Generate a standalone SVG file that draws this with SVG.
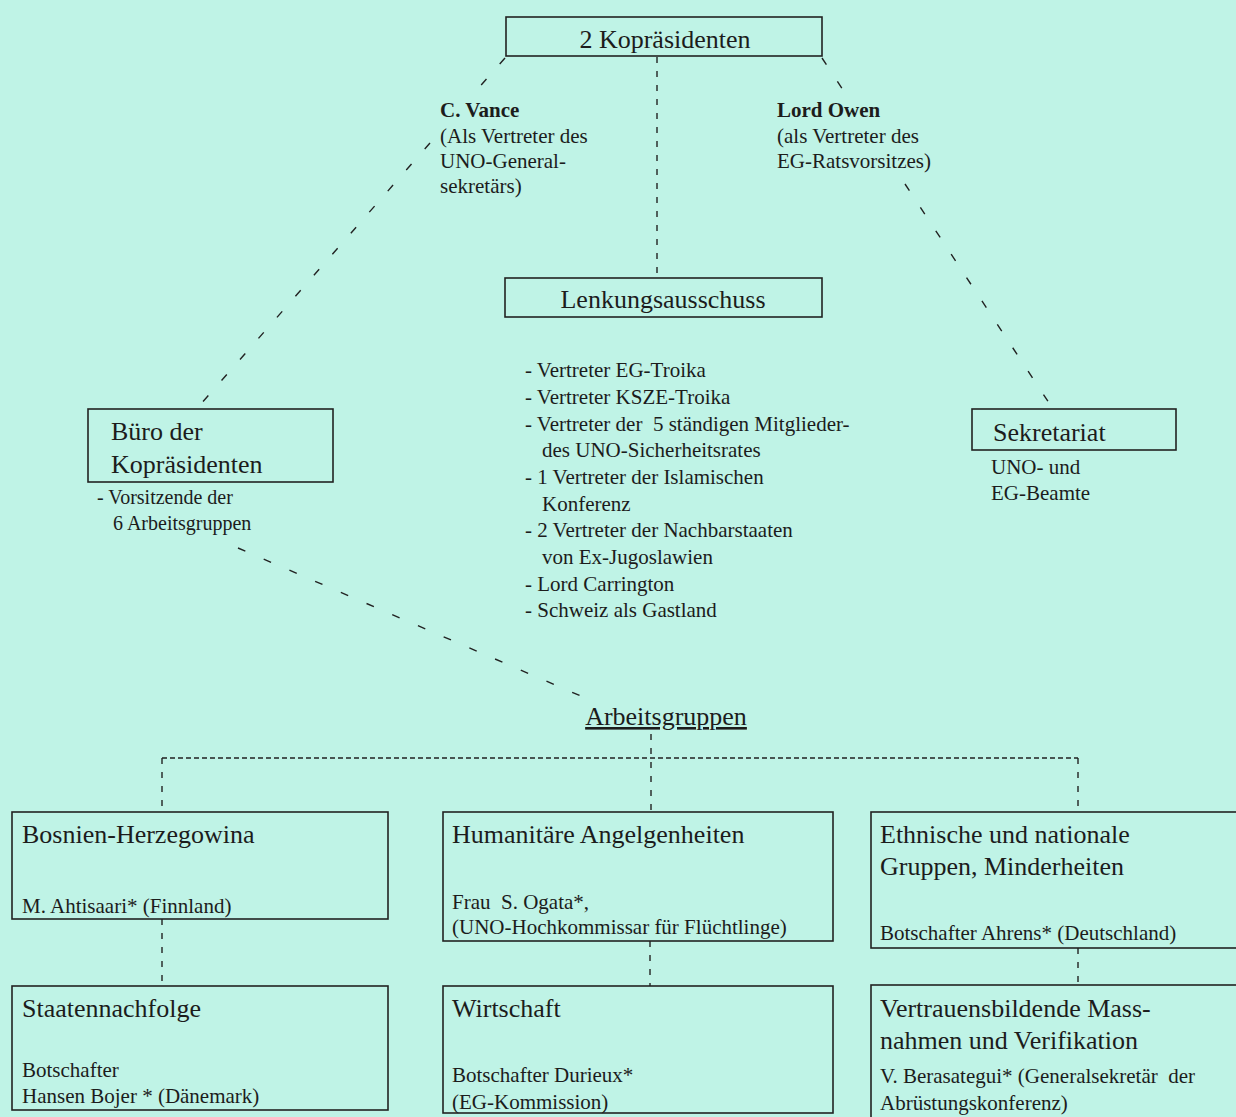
<svg xmlns="http://www.w3.org/2000/svg" width="1236" height="1117" viewBox="0 0 1236 1117">
<style>
  .bg { fill: #bff3e6; }
  .box { fill: none; stroke: #222; stroke-width: 1.6; }
  .t { font-family: "Liberation Serif", "Times New Roman", serif; fill: #1c1c1c; }
  .title { font-size: 26px; }
  .sm { font-size: 21px; }
  .b { font-weight: bold; }
  .diag { stroke: #222; stroke-width: 1.4; fill: none; stroke-dasharray: 8 20; }
  .vd { stroke: #222; stroke-width: 1.4; fill: none; stroke-dasharray: 6 8; }
  .hd { stroke: #222; stroke-width: 1.4; fill: none; stroke-dasharray: 5 3; }
</style>
<rect class="bg" x="0" y="0" width="1236" height="1117"/>

<g id="connectors">
  <line class="vd" x1="657" y1="57" x2="657" y2="278"/>
  <line class="diag" x1="505" y1="58" x2="475" y2="92"/>
  <line class="diag" x1="430" y1="143" x2="200" y2="405"/>
  <line class="diag" x1="822" y1="58" x2="847" y2="96"/>
  <line class="diag" x1="905" y1="184" x2="1053" y2="409"/>
  <line class="diag" x1="238" y1="548" x2="590" y2="700"/>
  <line class="vd" x1="651" y1="734" x2="651" y2="812"/>
  <line class="hd" x1="162" y1="758" x2="1078" y2="758"/>
  <line class="vd" x1="162" y1="758" x2="162" y2="812"/>
  <line class="vd" x1="1078" y1="758" x2="1078" y2="812"/>
  <line class="vd" x1="162" y1="919" x2="162" y2="986"/>
  <line class="vd" x1="650" y1="941" x2="650" y2="986"/>
  <line class="vd" x1="1078" y1="948" x2="1078" y2="985"/>
</g>

<g id="kopraesidenten">
  <rect class="box" x="506" y="17" width="316" height="39"/>
  <text class="t title" x="665" y="48" text-anchor="middle">2 Kopräsidenten</text>
</g>

<g id="vance">
  <text class="t sm b" x="440" y="117">C. Vance</text>
  <text class="t sm" x="440" y="143">(Als Vertreter des</text>
  <text class="t sm" x="440" y="168">UNO-General-</text>
  <text class="t sm" x="440" y="193">sekretärs)</text>
</g>

<g id="owen">
  <text class="t sm b" x="777" y="117">Lord Owen</text>
  <text class="t sm" x="777" y="143">(als Vertreter des</text>
  <text class="t sm" x="777" y="168">EG-Ratsvorsitzes)</text>
</g>

<g id="lenkungsausschuss">
  <rect class="box" x="505" y="278" width="317" height="39"/>
  <text class="t title" x="663" y="308" text-anchor="middle">Lenkungsausschuss</text>
  <text class="t sm" x="525" y="377">- Vertreter EG-Troika</text>
  <text class="t sm" x="525" y="404">- Vertreter KSZE-Troika</text>
  <text class="t sm" x="525" y="431" xml:space="preserve">- Vertreter der  5 ständigen Mitglieder-</text>
  <text class="t sm" x="542" y="457">des UNO-Sicherheitsrates</text>
  <text class="t sm" x="525" y="484">- 1 Vertreter der Islamischen</text>
  <text class="t sm" x="542" y="511">Konferenz</text>
  <text class="t sm" x="525" y="537">- 2 Vertreter der Nachbarstaaten</text>
  <text class="t sm" x="542" y="564">von Ex-Jugoslawien</text>
  <text class="t sm" x="525" y="591">- Lord Carrington</text>
  <text class="t sm" x="525" y="617">- Schweiz als Gastland</text>
</g>

<g id="buero">
  <rect class="box" x="88" y="409" width="245" height="73"/>
  <text class="t title" x="111" y="440">Büro der</text>
  <text class="t title" x="111" y="473">Kopräsidenten</text>
  <text class="t" font-size="20" x="97" y="504">- Vorsitzende der</text>
  <text class="t" font-size="20" x="113" y="530">6 Arbeitsgruppen</text>
</g>

<g id="sekretariat">
  <rect class="box" x="972" y="409" width="204" height="41"/>
  <text class="t title" x="993" y="441">Sekretariat</text>
  <text class="t sm" x="991" y="474">UNO- und</text>
  <text class="t sm" x="991" y="500">EG-Beamte</text>
</g>

<g id="arbeitsgruppen">
  <text class="t title" x="666" y="725" text-anchor="middle" text-decoration="underline">Arbeitsgruppen</text>
</g>

<g id="bosnien">
  <rect class="box" x="12" y="812" width="376" height="107"/>
  <text class="t title" x="22" y="843">Bosnien-Herzegowina</text>
  <text class="t sm" x="22" y="913">M. Ahtisaari* (Finnland)</text>
</g>

<g id="staatennachfolge">
  <rect class="box" x="12" y="986" width="376" height="124"/>
  <text class="t title" x="22" y="1017">Staatennachfolge</text>
  <text class="t sm" x="22" y="1077">Botschafter</text>
  <text class="t sm" x="22" y="1103">Hansen Bojer * (Dänemark)</text>
</g>

<g id="humanitaer">
  <rect class="box" x="443" y="812" width="390" height="129"/>
  <text class="t title" x="452" y="843">Humanitäre Angelgenheiten</text>
  <text class="t sm" x="452" y="909" xml:space="preserve">Frau  S. Ogata*,</text>
  <text class="t sm" x="452" y="934">(UNO-Hochkommissar für Flüchtlinge)</text>
</g>

<g id="wirtschaft">
  <rect class="box" x="443" y="986" width="390" height="127"/>
  <text class="t title" x="452" y="1017">Wirtschaft</text>
  <text class="t sm" x="452" y="1082">Botschafter Durieux*</text>
  <text class="t sm" x="452" y="1109">(EG-Kommission)</text>
</g>

<g id="ethnische">
  <rect class="box" x="871" y="812" width="380" height="136"/>
  <text class="t title" x="880" y="843">Ethnische und nationale</text>
  <text class="t title" x="880" y="875">Gruppen, Minderheiten</text>
  <text class="t sm" x="880" y="940">Botschafter Ahrens* (Deutschland)</text>
</g>

<g id="vertrauen">
  <rect class="box" x="871" y="985" width="380" height="150"/>
  <text class="t title" x="880" y="1017">Vertrauensbildende Mass-</text>
  <text class="t title" x="880" y="1049">nahmen und Verifikation</text>
  <text class="t sm" x="880" y="1083" xml:space="preserve">V. Berasategui* (Generalsekretär  der</text>
  <text class="t sm" x="880" y="1110">Abrüstungskonferenz)</text>
</g>
</svg>
